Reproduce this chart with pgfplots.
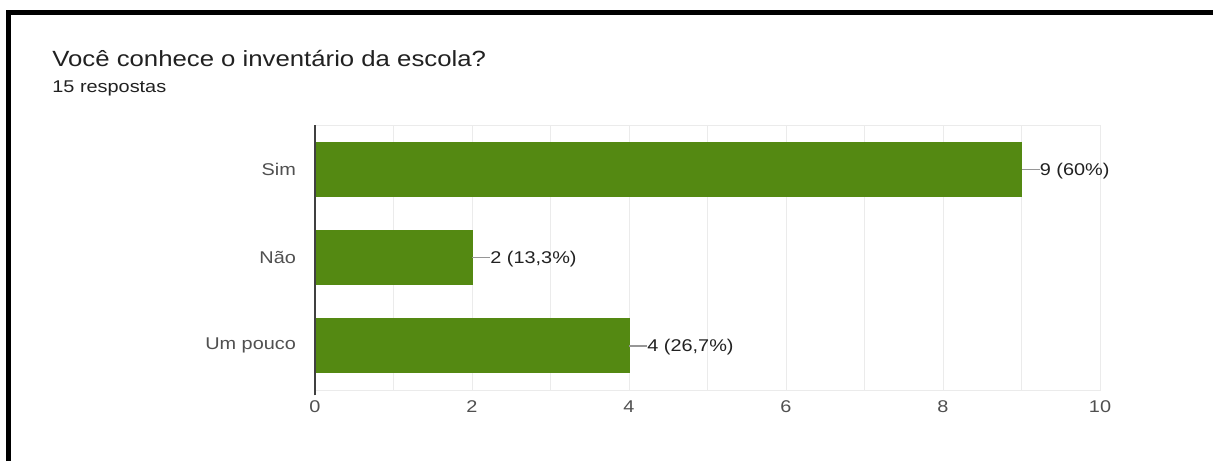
\documentclass[border=0pt]{standalone}
\usepackage{fontspec}
\setmainfont{Liberation Sans}[FakeStretch=1.17]
\usepackage{pgfplots}
\pgfplotsset{compat=1.18}
\definecolor{barG}{RGB}{84,137,18}
\definecolor{txt}{RGB}{33,33,33}
\definecolor{tick}{RGB}{80,80,80}
\definecolor{gridc}{RGB}{235,235,235}
\definecolor{lead}{RGB}{150,150,150}
\begin{document}
\begin{tikzpicture}
\path[use as bounding box] (0,0) rectangle (606.5pt,230.5pt);
\fill[white] (0,0) rectangle (606.5pt,230.5pt);
\draw[line width=2.6pt,black] (3pt,224.25pt) -- (606.5pt,224.25pt);
\draw[line width=2.6pt,black] (4.25pt,0pt) -- (4.25pt,225.5pt);
\node[anchor=base west,inner sep=0pt,text=txt,font=\fontsize{11}{13}\selectfont] at (26pt,197pt) {Você conhece o inventário da escola?};
\node[anchor=base west,inner sep=0pt,text=txt,font=\fontsize{8.5}{10}\selectfont] at (26pt,184pt) {15 respostas};
\begin{axis}[
  at={(157.5pt,35.5pt)}, anchor=south west,
  scale only axis, width=392.5pt, height=132.5pt,
  xbar, bar width=27pt,
  xmin=0, xmax=10, ymin=-0.5, ymax=2.5, y dir=reverse,
  ytick={0,1,2}, yticklabels={Sim,Não,Um pouco},
  xtick={0,2,4,6,8,10}, minor xtick={1,3,5,7,9},
  xmajorgrids, xminorgrids,
  major grid style={gridc}, minor grid style={gridc},
  major tick length=0pt, minor tick length=0pt,
  axis line style={gridc},
  tick label style={text=tick,font=\fontsize{8.5}{10}\selectfont},
  /pgf/number format/assume math mode=true,
  xticklabel style={yshift=-2pt},
  yticklabel style={xshift=-6pt},
  point meta=explicit symbolic,
  nodes near coords={\textcolor{lead}{\rule[2.6pt]{9pt}{0.6pt}}\pgfplotspointmeta},
  nodes near coords style={anchor=west,inner sep=0pt,text=txt,yshift=-0.8pt,font=\fontsize{8.5}{10}\selectfont},
  clip=false,
]
\addplot[fill=barG,draw=barG] coordinates {(9,0) [9 (60\%)] (2,1) [2 (13{,}3\%)] (4,2) [4 (26{,}7\%)]};
\draw[tick!80!black,line width=0.7pt] (axis description cs:0,-0.02) -- (axis description cs:0,1);
\end{axis}
\end{tikzpicture}
\end{document}
